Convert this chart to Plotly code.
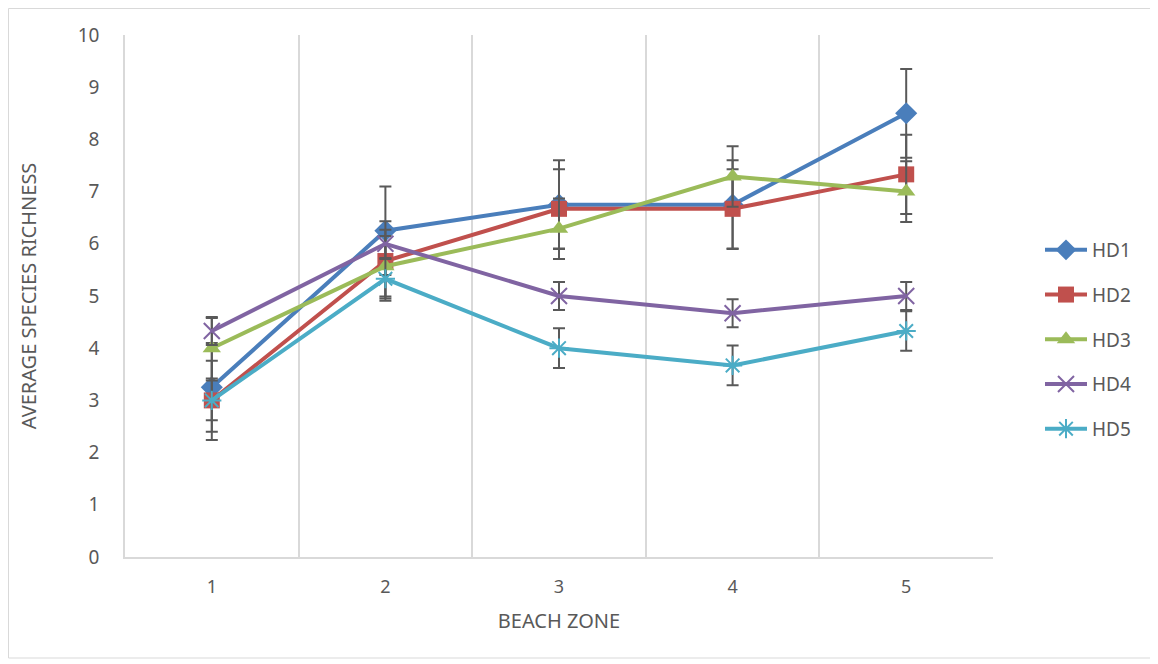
import plotly.graph_objects as go

zones = [1, 2, 3, 4, 5]
zone_labels = ["1", "2", "3", "4", "5"]
series_names = ["HD1", "HD2", "HD3", "HD4", "HD5"]
hd1 = [3.25, 6.25, 6.75, 6.75, 8.5]
hd2 = [3.0, 5.67, 6.67, 6.67, 7.33]
hd3 = [4.0, 5.57, 6.29, 7.29, 7.0]
hd4 = [4.33, 6.0, 5.0, 4.67, 5.0]
hd5 = [3.0, 5.33, 4.0, 3.67, 4.33]
err1 = [0.85, 0.85, 0.85, 0.85, 0.85]
err2 = [0.76, 0.76, 0.76, 0.76, 0.76]
err3 = [0.58, 0.58, 0.58, 0.58, 0.58]
err4 = [0.27, 0.27, 0.27, 0.27, 0.27]
err5 = [0.38, 0.38, 0.38, 0.38, 0.38]

values = [hd1, hd2, hd3, hd4, hd5]
errors = [err1, err2, err3, err4, err5]
colors = ["#4A7EBB", "#C0504D", "#9BBB59", "#8064A2", "#4BACC6"]
symbols = ["diamond", "square", "triangle-up", "x-thin", "asterisk"]
sizes = [17, 16, 16, 16, 16]

fig = go.Figure()
for i, name in enumerate(series_names):
    thin = symbols[i] in ("x-thin", "asterisk")
    fig.add_trace(go.Scatter(
        x=zones, y=values[i], name=name, mode="lines+markers",
        legendgroup=name,
        line=dict(color=colors[i], width=4),
        marker=dict(symbol=symbols[i], size=sizes[i], color=colors[i],
                    line=dict(color=colors[i], width=2 if thin else 0)),
        error_y=dict(type="data", array=errors[i], visible=True,
                     color="#595959", thickness=2, width=6),
    ))

# page body has an 8px margin, so the figure is drawn at page (8, 8)
OFF = 8
W, H = 1150, 656
L, T = 125 - OFF, 35 - OFF
pw, ph = 868, 522
R, B = W - L - pw, H - T - ph

def px_x(page_x):
    return (page_x - OFF - L) / pw

def px_y(page_y):
    return (T + ph - (page_y - OFF)) / ph

fig.update_layout(
    width=W, height=H,
    margin=dict(l=L, r=R, t=T, b=B),
    paper_bgcolor="white", plot_bgcolor="white",
    font=dict(family="Noto Sans, Liberation Sans, sans-serif", color="#595959", size=18),
    xaxis=dict(
        range=[0.5, 5.5], tickmode="array", tickvals=zones, ticktext=zone_labels,
        showgrid=False, showline=True, linecolor="#D9D9D9", linewidth=1.5,
        ticks="", zeroline=False, tickfont=dict(size=18, color="#595959"),
        ticklabelstandoff=13,
        minor=dict(tickmode="array", tickvals=[0.5, 1.5, 2.5, 3.5, 4.5, 5.5],
                   showgrid=True, gridcolor="#D9D9D9", gridwidth=1.5, ticks=""),
        title=dict(text="BEACH ZONE", font=dict(size=20, color="#595959"), standoff=17),
    ),
    yaxis=dict(
        range=[0, 10], dtick=1, tick0=0, showgrid=False, zeroline=False,
        showline=True, linecolor="#D9D9D9", linewidth=1.5, ticks="",
        tickfont=dict(size=19, color="#595959"), ticklabelstandoff=20,
        title=dict(text="AVERAGE SPECIES RICHNESS", font=dict(size=20, color="#595959"), standoff=36),
    ),
    legend=dict(
        x=px_x(1040), y=px_y(231), xanchor="left", yanchor="top",
        font=dict(size=19, color="#595959"), tracegroupgap=17, itemwidth=42,
        traceorder="grouped", bgcolor="rgba(0,0,0,0)",
    ),
    shapes=[dict(
        type="rect", xref="paper", yref="paper",
        x0=px_x(8.5), x1=px_x(1151),
        y0=px_y(658), y1=px_y(8.5),
        line=dict(color="#D9D9D9", width=1), fillcolor="rgba(0,0,0,0)", layer="below",
    )],
)

fig.write_html("out.html")
